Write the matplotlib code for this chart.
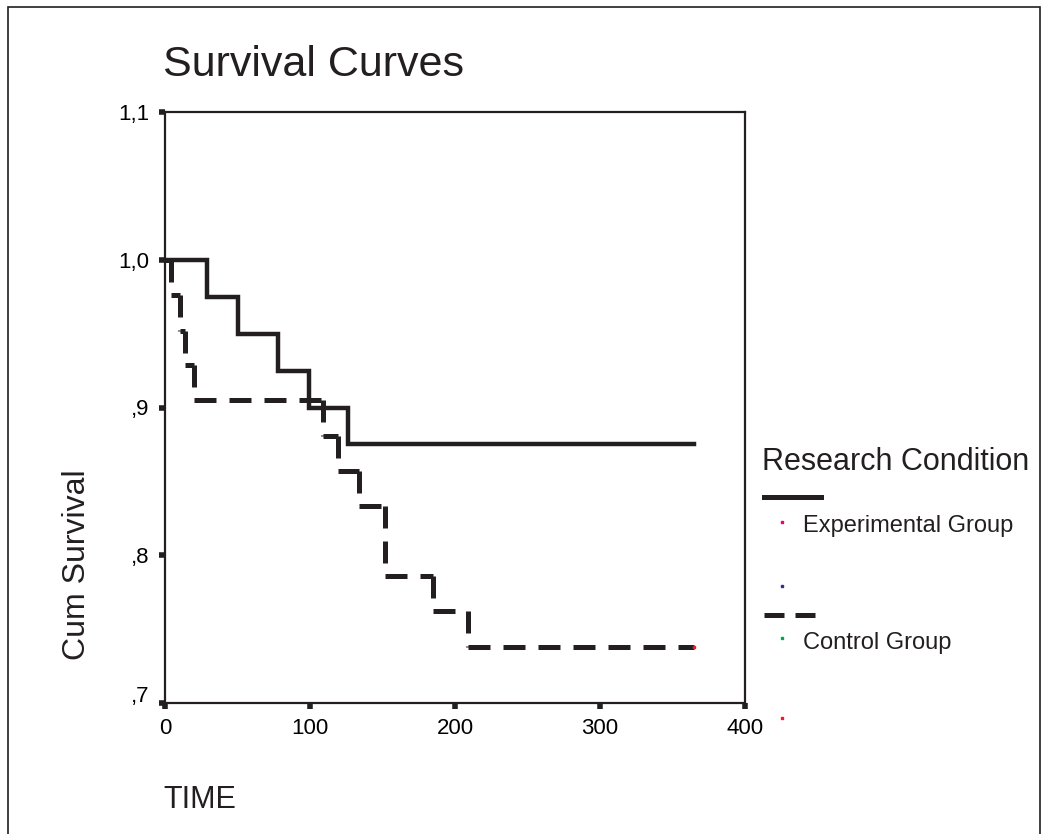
import matplotlib.pyplot as plt
import matplotlib.transforms as mtransforms
from matplotlib.lines import Line2D
from matplotlib.patches import Rectangle

plt.rcParams['font.family'] = ['Liberation Sans', 'DejaVu Sans']

# Kaplan-Meier steps: survival value holds from each time until the next one
exp_times = [0, 29, 50, 78, 99, 126, 365]
exp_surv = [1.0, 0.975, 0.95, 0.925, 0.90, 0.875, 0.875]

ctl_times = [0, 4, 10, 14, 20, 109, 119, 134, 152, 185, 209, 365]
ctl_surv = [1.0, 0.976, 0.952, 0.929, 0.905, 0.881, 0.857, 0.833, 0.786, 0.762, 0.738, 0.738]

y_ticks = [0.7, 0.8, 0.9, 1.0, 1.1]
y_ticklabels = [',7', ',8', ',9', '1,0', '1,1']
x_ticks = [0, 100, 200, 300, 400]

fig = plt.figure(figsize=(10.42, 8.34), dpi=100)
ax = fig.add_axes([165 / 1042, 1 - 703 / 834, 580 / 1042, 591 / 834])

# solid curve for experimental group
ax.step(exp_times, exp_surv, where='post', color='#231f20', lw=3.2, solid_joinstyle='miter')

# dashed curve, each step piece drawn on its own so the dash pattern restarts
dash = (0, (4.4, 2.6))
for i in range(len(ctl_times) - 1):
    t0, t1 = ctl_times[i], ctl_times[i + 1]
    s0, s1 = ctl_surv[i], ctl_surv[i + 1]
    ax.plot([t0, t1], [s0, s0], color='#231f20', lw=3.6, linestyle=dash, dash_capstyle='butt')
    if s1 != s0:
        ax.plot([t1, t1], [s0, s1], color='#231f20', lw=3.6, linestyle=dash, dash_capstyle='butt')
# red speck at the end of the dashed curve, as in the original
ax.plot([ctl_times[-1]], [ctl_surv[-1]], marker='s', markersize=1.5, color='#ed1c24', lw=0)

ax.set_xlim(0, 400)
ax.set_ylim(0.7, 1.1)
ax.set_xticks(x_ticks)
ax.set_yticks(y_ticks)
ax.set_yticklabels(y_ticklabels)
ax.tick_params(direction='out', length=4, width=4, color='#231f20', labelsize=16, pad=7)
for sp in ax.spines.values():
    sp.set_linewidth(1.6)
    sp.set_color('#231f20')

# the bottom y label sits a little above its tick
lab = ax.get_yticklabels()[0]
lab.set_transform(lab.get_transform() + mtransforms.ScaledTranslation(0, 9 / 100, fig.dpi_scale_trans))

# titles and axis labels
fig.text(163 / 1042, 1 - 65 / 834, 'Survival Curves', fontsize=31, va='center', ha='left', color='#231f20')
fig.text(77 / 1042, 1 - 565 / 834, 'Cum Survival', fontsize=23, rotation=90, va='center', ha='center', color='#231f20')
fig.text(163 / 1042, 1 - 800 / 834, 'TIME', fontsize=22, va='center', ha='left', color='#231f20')

# legend, laid out like the original
fig.text(762 / 1042, 1 - 462 / 834, 'Research Condition', fontsize=22, va='center', ha='left', color='#231f20')
fig.add_artist(Line2D([764 / 1042, 821 / 1042], [1 - 497 / 834, 1 - 497 / 834],
                      transform=fig.transFigure, color='#231f20', lw=3.6))
fig.text(803 / 1042, 1 - 526 / 834, 'Experimental Group', fontsize=17, va='center', ha='left', color='#231f20')
fig.add_artist(Line2D([764 / 1042, 821 / 1042], [1 - 615 / 834, 1 - 615 / 834],
                      transform=fig.transFigure, color='#231f20', lw=3.6,
                      linestyle=(0, (4.0, 2.2)), dash_capstyle='butt'))
fig.text(803 / 1042, 1 - 643 / 834, 'Control Group', fontsize=17, va='center', ha='left', color='#231f20')

# tiny coloured specks that the original legend carries
for (px, py), c in zip([(782, 522), (782, 586), (782, 638), (782, 718)],
                       ['#e6007e', '#2e3192', '#00a651', '#ed1c24']):
    fig.add_artist(Line2D([px / 1042], [1 - py / 834], transform=fig.transFigure,
                          marker='s', markersize=1.5, color=c, lw=0))

# outer frame
fig.add_artist(Rectangle((8 / 1042, -0.01), 1032 / 1042, 1.01 - 7 / 834, transform=fig.transFigure,
                         fill=False, edgecolor='#231f20', lw=1.2))

fig.savefig('out.png', dpi=100)
